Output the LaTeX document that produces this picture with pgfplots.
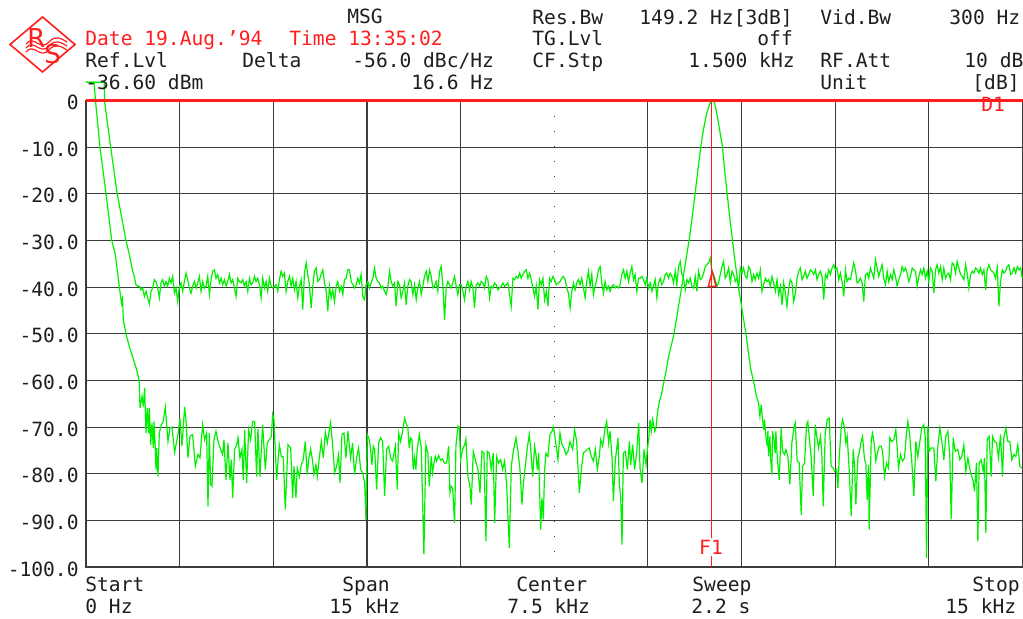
\documentclass[border=0pt]{standalone}
\usepackage{fontspec}
\setmainfont{DejaVu Sans Mono}
\newfontfamily\logofont{DejaVu Sans}
\usepackage{pgfplots}
\pgfplotsset{compat=1.18}
\definecolor{trace}{RGB}{0,240,0}
\definecolor{gridc}{RGB}{60,60,60}
\definecolor{txt}{RGB}{30,30,30}
\definecolor{rsred}{RGB}{255,30,30}
\newcommand\hd{\fontsize{9.8pt}{12pt}\selectfont}
\begin{document}
\begin{tikzpicture}
\path[use as bounding box] (-43pt,-25.5pt) rectangle (468.5pt,283.5pt);
\begin{axis}[
    at={(0,0)}, anchor=south west,
    scale only axis,
    width=468.25pt, height=233.25pt,
    xmin=0, xmax=15, ymin=-100, ymax=0,
    clip=false,
    axis line style={gridc, line width=0.6pt},
    xtick={1.5,3,4.5,6,9,10.5,12,13.5},
    xticklabels={},
    ytick={-100,-90,-80,-70,-60,-50,-40,-30,-20,-10,0},
    yticklabels={-100.0,-90.0,-80.0,-70.0,-60.0,-50.0,-40.0,-30.0,-20.0,-10.0,0},
    xmajorgrids, ymajorgrids,
    grid style={gridc, line width=0.55pt},
    major tick length=0pt,
    tick style={draw=none},
    yticklabel style={font=\hd, text=txt, inner sep=0pt, anchor=east, xshift=-3.5pt, yshift=-1pt},
]
% centre line (dotted)
\addplot[gridc, line width=0.6pt, dash pattern=on 0.5pt off 7pt] coordinates {(7.5,-100) (7.5,0)};
% trace A: noise around -40 dB
\addplot[trace, line width=0.6pt] coordinates {
(0,3.9) (0.29,3.9) (0.30,-0.5) (0.395,-10) (0.50,-20) (0.641,-30) (0.694,-33) (0.748,-36.6) (0.77,-37.5) (0.80,-39.5) (0.828,-39.8)
(0.855,-39.8) (0.881,-40.6) (0.908,-40.2) (0.935,-42.0) (0.962,-40.9) (0.988,-42.3) (1.015,-43.6) (1.042,-40.9) (1.068,-40.2) (1.095,-38.4)
(1.122,-38.8) (1.149,-40.2) (1.175,-42.3) (1.202,-39.1) (1.229,-38.4) (1.255,-39.8) (1.282,-38.8) (1.309,-39.8) (1.336,-38.1) (1.362,-39.1)
(1.389,-37.7) (1.416,-41.3) (1.442,-40.2) (1.469,-43.1) (1.496,-39.8) (1.522,-39.1) (1.549,-40.9) (1.576,-38.8) (1.603,-37.0) (1.629,-38.4)
(1.656,-40.2) (1.683,-41.3) (1.709,-39.8) (1.736,-38.8) (1.763,-40.2) (1.790,-39.1) (1.816,-37.7) (1.843,-40.9) (1.870,-38.8) (1.896,-40.2)
(1.923,-39.8) (1.950,-37.7) (1.977,-41.6) (2.003,-38.4) (2.030,-36.6) (2.057,-36.3) (2.083,-38.1) (2.110,-37.3) (2.137,-39.1) (2.164,-38.1)
(2.190,-39.5) (2.217,-38.4) (2.244,-39.8) (2.270,-38.8) (2.297,-37.3) (2.324,-39.1) (2.350,-38.4) (2.377,-40.2) (2.404,-42.0) (2.431,-38.1)
(2.457,-38.8) (2.484,-39.1) (2.511,-38.4) (2.537,-39.8) (2.564,-38.8) (2.591,-40.9) (2.618,-38.1) (2.644,-39.5) (2.671,-39.1) (2.698,-37.7)
(2.724,-38.8) (2.751,-38.1) (2.778,-39.5) (2.805,-42.3) (2.831,-38.1) (2.858,-40.2) (2.885,-38.8) (2.911,-40.9) (2.938,-38.1) (2.965,-39.8)
(2.992,-40.2) (3.018,-39.8) (3.045,-39.5) (3.072,-40.9) (3.098,-38.4) (3.125,-36.6) (3.152,-37.7) (3.178,-37.0) (3.205,-40.9) (3.232,-38.8)
(3.259,-37.7) (3.285,-39.8) (3.312,-38.1) (3.339,-40.6) (3.365,-38.8) (3.392,-42.3) (3.419,-39.8) (3.446,-38.4) (3.472,-44.8) (3.499,-37.0)
(3.526,-34.8) (3.552,-37.3) (3.579,-39.5) (3.606,-44.5) (3.633,-39.8) (3.659,-36.6) (3.686,-35.9) (3.713,-38.8) (3.739,-38.4) (3.766,-37.3)
(3.793,-36.3) (3.820,-39.1) (3.846,-40.6) (3.873,-45.2) (3.900,-39.8) (3.926,-42.3) (3.953,-40.6) (3.980,-43.1) (4.007,-39.8) (4.033,-38.8)
(4.060,-40.9) (4.087,-39.8) (4.113,-41.6) (4.140,-38.4) (4.167,-38.1) (4.193,-36.3) (4.220,-36.3) (4.247,-38.8) (4.274,-39.5) (4.300,-40.2)
(4.327,-39.5) (4.354,-38.1) (4.380,-39.1) (4.407,-37.3) (4.434,-42.0) (4.461,-42.7) (4.487,-39.5) (4.514,-38.8) (4.541,-40.2) (4.567,-39.1)
(4.594,-38.1) (4.621,-35.9) (4.648,-38.1) (4.674,-38.8) (4.701,-39.1) (4.728,-40.2) (4.754,-39.8) (4.781,-40.9) (4.808,-41.6) (4.835,-39.8)
(4.861,-36.6) (4.888,-38.8) (4.915,-39.8) (4.941,-39.1) (4.968,-44.1) (4.995,-38.8) (5.021,-39.5) (5.048,-42.3) (5.075,-40.9) (5.102,-39.1)
(5.128,-43.8) (5.155,-39.8) (5.182,-38.4) (5.208,-38.8) (5.235,-41.6) (5.262,-39.5) (5.289,-42.7) (5.315,-40.2) (5.342,-38.8) (5.369,-41.6)
(5.395,-39.8) (5.422,-37.7) (5.449,-36.6) (5.476,-38.8) (5.502,-36.3) (5.529,-37.7) (5.556,-40.2) (5.582,-39.8) (5.609,-38.8) (5.636,-40.9)
(5.663,-36.6) (5.689,-35.6) (5.716,-39.5) (5.743,-47.0) (5.769,-40.2) (5.796,-38.8) (5.823,-39.5) (5.849,-40.2) (5.876,-39.1) (5.903,-37.7)
(5.930,-39.8) (5.956,-41.6) (5.983,-39.5) (6.010,-39.5) (6.036,-40.9) (6.063,-42.7) (6.090,-39.8) (6.117,-38.8) (6.143,-40.6) (6.170,-38.8)
(6.197,-40.2) (6.223,-44.5) (6.250,-39.5) (6.277,-39.1) (6.304,-39.8) (6.330,-38.8) (6.357,-39.1) (6.384,-40.2) (6.410,-37.7) (6.437,-38.4)
(6.464,-42.3) (6.491,-39.8) (6.517,-40.2) (6.544,-39.1) (6.571,-39.5) (6.597,-40.6) (6.624,-40.2) (6.651,-39.8) (6.678,-39.1) (6.704,-39.8)
(6.731,-39.5) (6.758,-39.1) (6.784,-41.6) (6.811,-44.1) (6.838,-38.1) (6.864,-38.4) (6.891,-37.7) (6.918,-38.1) (6.945,-37.0) (6.971,-38.1)
(6.998,-37.3) (7.025,-36.6) (7.051,-36.3) (7.078,-38.1) (7.105,-37.0) (7.132,-38.4) (7.158,-40.2) (7.185,-42.0) (7.212,-39.8) (7.238,-44.8)
(7.265,-38.4) (7.292,-39.5) (7.319,-38.1) (7.345,-42.7) (7.372,-40.9) (7.399,-44.1) (7.425,-38.1) (7.452,-38.8) (7.479,-37.7) (7.505,-38.4)
(7.532,-39.5) (7.567,-39.1) (7.594,-38.8) (7.620,-38.1) (7.647,-37.7) (7.674,-38.4) (7.701,-40.2) (7.727,-41.3) (7.754,-44.5) (7.781,-40.9)
(7.807,-39.1) (7.834,-40.6) (7.861,-39.1) (7.888,-38.4) (7.914,-39.5) (7.941,-38.1) (7.968,-40.2) (7.995,-42.3) (8.021,-38.8) (8.048,-36.6)
(8.075,-39.8) (8.101,-37.3) (8.128,-41.6) (8.155,-39.8) (8.182,-38.4) (8.208,-36.3) (8.235,-35.6) (8.262,-39.1) (8.288,-41.3) (8.315,-38.8)
(8.342,-40.6) (8.369,-39.8) (8.395,-40.9) (8.422,-39.8) (8.449,-39.5) (8.476,-40.2) (8.502,-39.8) (8.529,-40.2) (8.556,-39.5) (8.582,-37.3)
(8.609,-36.3) (8.636,-38.1) (8.663,-36.6) (8.689,-38.8) (8.716,-37.0) (8.743,-35.6) (8.770,-38.4) (8.796,-37.3) (8.823,-40.9) (8.850,-38.1)
(8.876,-38.1) (8.903,-37.7) (8.930,-38.4) (8.957,-39.5) (8.983,-38.1) (9.010,-40.2) (9.037,-39.1) (9.064,-40.9) (9.090,-39.8) (9.117,-38.4)
(9.144,-42.3) (9.170,-39.1) (9.197,-38.1) (9.224,-39.5) (9.251,-38.8) (9.277,-37.3) (9.304,-37.0) (9.331,-38.1) (9.358,-37.0) (9.384,-37.7)
(9.411,-39.1) (9.438,-36.6) (9.464,-39.5) (9.491,-35.6) (9.518,-34.5) (9.545,-37.3) (9.571,-38.1) (9.598,-40.6) (9.625,-38.4) (9.651,-39.1)
(9.678,-38.1) (9.705,-39.8) (9.732,-40.2) (9.758,-37.7) (9.785,-40.9) (9.812,-36.6) (9.839,-38.4) (9.865,-38.1) (9.892,-37.0) (9.919,-35.6)
(9.945,-35.2) (9.972,-34.8) (9.999,-33.8) (10.026,-36.6) (10.052,-37.3) (10.079,-38.4) (10.106,-39.8) (10.133,-39.1) (10.159,-37.3) (10.186,-35.6)
(10.213,-34.5) (10.239,-38.1) (10.266,-37.3) (10.293,-35.9) (10.320,-39.1) (10.346,-36.6) (10.373,-37.3) (10.400,-38.8) (10.426,-38.1) (10.453,-40.2)
(10.480,-35.9) (10.507,-37.0) (10.533,-35.9) (10.560,-37.7) (10.587,-38.1) (10.614,-35.6) (10.640,-36.3) (10.667,-38.8) (10.694,-37.3) (10.720,-38.4)
(10.747,-37.0) (10.774,-38.1) (10.801,-36.3) (10.827,-40.9) (10.854,-39.5) (10.881,-38.1) (10.908,-38.8) (10.934,-38.4) (10.961,-39.8) (10.988,-37.7)
(11.014,-39.1) (11.041,-40.9) (11.068,-38.4) (11.095,-41.6) (11.121,-39.8) (11.148,-43.8) (11.175,-39.1) (11.202,-41.3) (11.228,-44.1) (11.255,-40.2)
(11.282,-38.4) (11.308,-39.1) (11.335,-43.1) (11.362,-41.3) (11.389,-38.1) (11.415,-36.6) (11.442,-35.9) (11.469,-38.4) (11.495,-37.7) (11.522,-36.6)
(11.549,-38.1) (11.576,-37.3) (11.602,-36.3) (11.629,-36.6) (11.656,-37.3) (11.683,-36.3) (11.709,-38.4) (11.736,-37.3) (11.763,-36.6) (11.789,-37.7)
(11.816,-42.7) (11.843,-37.3) (11.870,-38.1) (11.896,-36.3) (11.923,-37.3) (11.950,-35.9) (11.977,-35.2) (12.003,-36.3) (12.030,-35.9) (12.057,-38.4)
(12.083,-37.0) (12.110,-38.8) (12.137,-42.0) (12.164,-36.3) (12.190,-38.8) (12.217,-38.1) (12.244,-38.4) (12.271,-36.6) (12.297,-34.8) (12.324,-36.3)
(12.351,-39.1) (12.377,-38.8) (12.404,-38.1) (12.431,-39.1) (12.458,-43.1) (12.484,-37.3) (12.511,-37.0) (12.538,-38.1) (12.564,-35.9) (12.591,-37.0)
(12.618,-38.1) (12.645,-34.1) (12.671,-35.9) (12.698,-37.7) (12.725,-36.3) (12.752,-35.2) (12.778,-38.1) (12.805,-39.5) (12.832,-36.6) (12.858,-38.8)
(12.885,-37.3) (12.912,-38.4) (12.939,-36.3) (12.965,-37.7) (12.992,-39.8) (13.019,-38.4) (13.045,-37.3) (13.072,-35.6) (13.099,-36.6) (13.126,-35.9)
(13.152,-37.0) (13.179,-38.8) (13.206,-37.7) (13.233,-35.9) (13.259,-36.3) (13.286,-36.6) (13.313,-39.8) (13.340,-37.7) (13.366,-36.3) (13.393,-37.3)
(13.420,-35.9) (13.446,-38.1) (13.473,-36.6) (13.500,-38.8) (13.527,-35.9) (13.553,-36.6) (13.580,-41.3) (13.607,-36.3) (13.633,-35.2) (13.660,-37.0)
(13.687,-35.6) (13.714,-38.4) (13.740,-35.9) (13.767,-38.1) (13.794,-37.3) (13.821,-37.0) (13.847,-38.4) (13.874,-34.8) (13.901,-35.2) (13.927,-37.0)
(13.954,-34.5) (13.981,-35.9) (14.008,-37.3) (14.034,-37.7) (14.061,-38.4) (14.088,-35.2) (14.114,-37.0) (14.141,-40.2) (14.168,-37.3) (14.195,-36.6)
(14.221,-37.0) (14.248,-35.9) (14.275,-36.3) (14.302,-37.0) (14.328,-35.9) (14.355,-37.3) (14.382,-36.3) (14.409,-40.6) (14.435,-36.3) (14.462,-35.2)
(14.489,-36.3) (14.515,-36.6) (14.542,-37.0) (14.569,-38.1) (14.596,-35.9) (14.622,-44.1) (14.649,-38.8) (14.676,-36.3) (14.703,-37.0) (14.729,-36.6)
(14.756,-35.6) (14.783,-35.2) (14.810,-37.3) (14.836,-37.0) (14.863,-35.9) (14.890,-37.0) (14.917,-35.6) (14.943,-36.3) (14.970,-35.9) (14.996,-38.1)
};
% trace B: noise around -75 dB with the carrier at 10 kHz
\addplot[trace, line width=0.6pt] coordinates {
(0,3.9) (0.13,3.9) (0.155,-0.5) (0.224,-10) (0.321,-20) (0.412,-30) (0.47,-33) (0.534,-40) (0.57,-43.5) (0.585,-42.5) (0.598,-47) (0.64,-50) (0.70,-53) (0.76,-55.5)
(0.811,-57.7) (0.854,-60.2) (0.865,-65.9) (0.897,-63.4) (0.918,-65.6) (0.939,-61.6) (0.961,-71.3) (0.982,-65.9) (1.004,-71.3) (1.014,-65.9)
(1.036,-73.8) (1.057,-69.1) (1.078,-74.5) (1.089,-68.8) (1.110,-74.5) (1.121,-79.1) (1.132,-74.5) (1.153,-80.6) (1.174,-71.3) (1.206,-69.5)
(1.238,-68.8) (1.270,-65.7) (1.292,-69.5) (1.313,-73.1) (1.345,-70.2) (1.377,-70.0) (1.420,-75.4) (1.473,-71.6) (1.505,-68.1) (1.537,-74.1)
(1.580,-65.7) (1.601,-68.4) (1.633,-76.6) (1.665,-72.0) (1.708,-71.6) (1.751,-78.4) (1.794,-75.9) (1.826,-76.6) (1.868,-69.5) (1.900,-72.7)
(1.932,-71.3) (1.954,-87.0) (1.975,-71.3) (1.996,-82.3) (2.018,-82.7) (2.050,-72.7) (2.082,-70.9) (2.114,-73.1) (2.157,-74.8) (2.189,-75.9)
(2.210,-72.7) (2.242,-81.3) (2.274,-73.4) (2.306,-81.3) (2.327,-77.0) (2.349,-85.2) (2.381,-74.8) (2.413,-73.8) (2.434,-72.3) (2.466,-76.6)
(2.498,-74.8) (2.520,-81.3) (2.541,-70.6) (2.573,-82.0) (2.605,-70.6) (2.637,-72.7) (2.669,-68.8) (2.701,-68.8) (2.733,-80.6) (2.754,-70.4)
(2.786,-80.6) (2.829,-69.5) (2.872,-79.1) (2.904,-73.4) (2.936,-72.7) (2.968,-72.0) (2.989,-67.3) (3.011,-68.4) (3.053,-81.3) (3.096,-73.8)
(3.128,-76.3) (3.160,-76.4) (3.192,-87.7) (3.235,-73.8) (3.278,-74.5) (3.310,-85.2) (3.331,-78.4) (3.363,-85.2) (3.384,-78.8) (3.416,-80.6)
(3.448,-78.1) (3.480,-77.0) (3.512,-73.1) (3.544,-80.2) (3.566,-77.0) (3.598,-74.7) (3.630,-77.3) (3.651,-80.2) (3.683,-78.1) (3.705,-80.6)
(3.737,-76.6) (3.769,-73.1) (3.801,-76.6) (3.833,-71.1) (3.865,-73.4) (3.918,-69.0) (3.950,-73.8) (3.982,-79.8) (4.014,-78.4) (4.046,-75.9)
(4.068,-82.0) (4.100,-71.6) (4.132,-71.3) (4.164,-76.6) (4.196,-70.9) (4.238,-76.6) (4.270,-73.4) (4.302,-80.2) (4.334,-76.6) (4.366,-74.5)
(4.399,-79.1) (4.431,-79.8) (4.463,-82.0) (4.484,-89.9) (4.505,-71.6) (4.537,-72.7) (4.559,-74.8) (4.580,-78.1) (4.601,-74.1) (4.623,-74.8)
(4.655,-83.4) (4.687,-73.4) (4.719,-72.3) (4.751,-73.1) (4.783,-84.8) (4.815,-74.8) (4.847,-74.1) (4.879,-76.6) (4.911,-77.3) (4.954,-74.1)
(4.986,-83.4) (5.007,-71.3) (5.039,-73.1) (5.071,-70.9) (5.103,-68.1) (5.125,-69.1)
(5.156,-70.2) (5.177,-74.5) (5.199,-72.3) (5.220,-72.7) (5.241,-79.1) (5.263,-76.6) (5.284,-79.1) (5.305,-74.8) (5.338,-71.6) (5.370,-74.5)
(5.412,-97.3) (5.444,-73.8) (5.476,-75.6) (5.498,-82.7) (5.530,-76.3) (5.551,-79.8) (5.573,-77.7) (5.594,-76.3) (5.615,-77.3) (5.647,-76.1)
(5.679,-77.1) (5.711,-76.8) (5.744,-77.8) (5.776,-77.7) (5.808,-74.1) (5.829,-84.1) (5.850,-82.7) (5.872,-83.1) (5.904,-90.6) (5.925,-74.1)
(5.957,-69.8) (5.979,-70.0) (6.000,-77.0) (6.032,-74.8) (6.064,-73.8) (6.085,-72.6) (6.117,-80.6) (6.150,-82.7) (6.171,-86.6) (6.203,-75.2)
(6.235,-77.0) (6.278,-79.1) (6.310,-84.1) (6.342,-75.2) (6.374,-75.6) (6.406,-94.5) (6.427,-75.2) (6.459,-75.6) (6.491,-79.1) (6.523,-75.6)
(6.545,-90.6) (6.577,-76.3) (6.609,-77.7) (6.641,-77.0) (6.673,-79.1) (6.705,-77.3) (6.737,-82.3) (6.780,-95.9) (6.812,-78.4) (6.844,-75.2)
(6.887,-72.3) (6.919,-75.2) (6.951,-79.1) (6.983,-86.6) (7.004,-82.3) (7.036,-78.4) (7.068,-74.5) (7.100,-71.6) (7.122,-74.5) (7.154,-80.6)
(7.186,-74.1) (7.207,-75.9) (7.229,-79.1) (7.250,-75.6) (7.282,-92.0) (7.303,-85.2) (7.325,-89.8) (7.346,-79.1) (7.367,-75.6) (7.399,-76.3)
(7.431,-71.6) (7.464,-70.9) (7.485,-70.0) (7.506,-71.6) (7.538,-74.8) (7.560,-77.0) (7.592,-71.3) (7.624,-73.8) (7.656,-74.5) (7.688,-75.9)
(7.720,-75.2) (7.752,-73.1) (7.795,-74.8) (7.827,-70.6) (7.859,-73.1) (7.902,-84.1) (7.934,-79.1) (7.966,-75.6) (7.998,-75.2) (8.030,-74.8)
(8.062,-74.5) (8.094,-76.3) (8.126,-77.3) (8.158,-74.8) (8.190,-79.1) (8.222,-76.3) (8.244,-72.7) (8.276,-74.1) (8.308,-70.9) (8.340,-68.8)
(8.372,-73.4) (8.393,-70.9) (8.425,-76.3) (8.447,-85.9) (8.479,-77.0) (8.521,-72.3) (8.543,-82.3) (8.564,-84.8) (8.585,-95.2) (8.607,-75.6)
(8.639,-75.2) (8.671,-79.1) (8.703,-73.1) (8.724,-78.1) (8.756,-73.8) (8.788,-79.1) (8.821,-75.2) (8.853,-69.1) (8.874,-78.8) (8.906,-82.0)
(8.938,-74.8) (8.970,-78.1) (8.991,-74.8) (9.013,-72.7) (9.034,-68.4) (9.055,-70.9) (9.077,-68.4) (9.109,-70.9) (9.130,-70.2)
(9.152,-67.0) (9.184,-64.5) (9.216,-63.1) (9.248,-60.9) (9.280,-58.8) (9.33,-55) (9.418,-50) (9.48,-45) (9.541,-40) (9.60,-35) (9.659,-30)
(9.71,-25) (9.755,-20) (9.80,-15) (9.846,-10) (9.89,-6.2) (9.937,-3) (9.991,-0.7) (10.034,0) (10.066,-0.4) (10.12,-4) (10.195,-10) (10.23,-15)
(10.27,-20) (10.31,-25) (10.355,-30) (10.40,-35) (10.452,-40) (10.51,-45) (10.570,-50) (10.62,-55)
(10.649,-57.7) (10.703,-60.9) (10.740,-63.4) (10.772,-64.8) (10.794,-67.7) (10.815,-65.2) (10.836,-68.4) (10.858,-70.6) (10.868,-68.4) (10.890,-72.0)
(10.911,-74.1) (10.922,-70.9) (10.932,-76.3) (10.954,-72.0) (10.964,-76.6) (10.986,-80.2) (10.996,-70.9) (11.018,-72.7) (11.039,-75.6) (11.050,-70.9)
(11.071,-76.3) (11.103,-81.3) (11.135,-70.2) (11.157,-75.2) (11.189,-75.9) (11.210,-74.8) (11.242,-76.3) (11.274,-82.3) (11.306,-73.4) (11.338,-70.2)
(11.359,-69.1) (11.391,-77.3) (11.423,-77.7) (11.456,-88.8) (11.477,-78.4) (11.509,-77.7) (11.541,-69.5) (11.562,-68.8) (11.584,-72.0) (11.616,-76.6)
(11.648,-84.8) (11.680,-69.5) (11.701,-71.6) (11.733,-74.5) (11.765,-72.0) (11.786,-75.9) (11.808,-87.0) (11.840,-71.3) (11.872,-68.4) (11.904,-68.1)
(11.936,-78.4) (11.968,-78.8) (11.989,-79.5) (12.021,-79.1) (12.043,-83.1) (12.064,-76.6) (12.096,-70.2) (12.117,-68.4) (12.149,-70.2) (12.171,-73.4)
(12.192,-72.0) (12.224,-79.1) (12.256,-89.1) (12.288,-74.8) (12.310,-78.4) (12.331,-86.6) (12.363,-76.6) (12.384,-75.6) (12.416,-73.1) (12.438,-72.0)
(12.470,-77.0) (12.491,-77.7) (12.512,-85.6) (12.534,-78.1) (12.544,-92.0) (12.577,-72.7) (12.598,-71.3) (12.630,-74.1) (12.651,-77.3) (12.683,-75.2)
(12.705,-74.1) (12.737,-74.1) (12.758,-75.2) (12.790,-80.6) (12.822,-77.7) (12.854,-78.8) (12.875,-72.3) (12.907,-73.1) (12.939,-72.7) (12.971,-70.6)
(12.993,-74.5) (13.014,-78.8) (13.046,-75.9) (13.078,-77.3) (13.110,-76.6) (13.142,-71.3) (13.164,-68.8) (13.196,-72.0) (13.228,-77.7) (13.260,-84.8)
(13.292,-73.1) (13.324,-76.3) (13.356,-73.1) (13.388,-70.2) (13.420,-69.5) (13.441,-72.0) (13.463,-98.1) (13.484,-69.8) (13.505,-75.2) (13.537,-74.5)
(13.580,-74.5) (13.612,-81.6) (13.644,-74.1) (13.676,-70.2) (13.708,-73.1) (13.740,-77.0) (13.772,-72.0) (13.804,-70.9) (13.836,-76.3) (13.858,-89.8)
(13.890,-72.3) (13.922,-75.2) (13.964,-74.8) (13.996,-77.0) (14.028,-76.3) (14.060,-73.8) (14.092,-79.5) (14.125,-76.6) (14.157,-79.1) (14.189,-80.6)
(14.210,-81.6) (14.231,-83.8) (14.263,-77.7) (14.285,-94.5) (14.306,-77.7) (14.338,-77.0) (14.370,-79.5) (14.391,-76.6) (14.413,-92.7) (14.434,-72.7)
(14.466,-72.0) (14.498,-80.6) (14.520,-72.0) (14.552,-73.1) (14.584,-73.4) (14.616,-76.6) (14.648,-71.6) (14.680,-80.6) (14.701,-72.3) (14.733,-70.2)
(14.765,-73.1) (14.797,-73.1) (14.829,-77.0) (14.861,-75.9) (14.893,-76.3) (14.925,-73.8) (14.957,-78.4) (14.989,-78.8)
};
% reference line, marker line F1 and delta marker
\addplot[rsred, line width=1.2pt] coordinates {(0,0) (15,0)};
\addplot[rsred, line width=0.6pt] coordinates {(10.02,-100) (10.02,0)};
\addplot[rsred, only marks, mark=triangle, mark size=4.9pt, mark options={xscale=0.46, line width=0.7pt}] coordinates {(10.03,-38.8)};
\end{axis}
\begin{scope}[x=0.5pt, y=-0.5pt, shift={(-86,-567)}, every node/.style={inner sep=0pt, anchor=base west, font=\hd, text=txt}]
% logo
\draw[rsred, line width=0.8pt] (10,44.5) -- (42.5,17) -- (75,44.5) -- (42.5,72) -- cycle;
\node[text=rsred, font=\logofont\fontsize{13pt}{14pt}\selectfont] at (27,47) {R};
\node[text=rsred, font=\logofont\fontsize{13pt}{14pt}\selectfont] at (44,63) {S};
\foreach \k in {0,4,8} {
  \draw[rsred, line width=0.6pt] (26,44+\k) .. controls (34,34+\k) and (40,52+\k) .. (49,42+\k) .. controls (55,35+\k) and (61,38+\k) .. (67,42+\k);
}
% header
\node at (347,23) {MSG};
\node[text=rsred] at (85,45) {Date 19.Aug.'94};
\node[text=rsred] at (289,45) {Time 13:35:02};
\node at (85,67) {Ref.Lvl};
\node at (242,67) {Delta};
\node at (352,67) {-56.0 dBc/Hz};
\node at (85,89) {-36.60 dBm};
\node at (411,89) {16.6 Hz};
\node at (532,24) {Res.Bw};
\node at (639,24) {149.2 Hz[3dB]};
\node at (820,24) {Vid.Bw};
\node at (949,24) {300 Hz};
\node at (532,45) {TG.Lvl};
\node at (757,45) {off};
\node at (532,67) {CF.Stp};
\node at (688,67) {1.500 kHz};
\node at (820,67) {RF.Att};
\node at (964,67) {10 dB};
\node at (820,89) {Unit};
\node at (972,89) {[dB]};
\node[text=rsred] at (981,111) {D1};
\node[text=rsred, fill=white, inner sep=1pt, anchor=base] at (711,554) {F1};
% footer
\node at (85,591) {Start};
\node at (85,613) {0 Hz};
\node at (342,591) {Span};
\node at (329,613) {15 kHz};
\node at (516,591) {Center};
\node at (507,613) {7.5 kHz};
\node at (692,591) {Sweep};
\node at (691,613) {2.2 s};
\node at (972,591) {Stop};
\node at (945,613) {15 kHz};
\end{scope}
\end{tikzpicture}
\end{document}
